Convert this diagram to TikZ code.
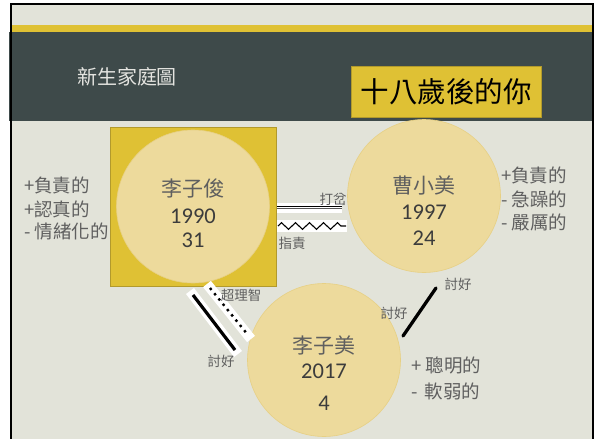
\documentclass[tikz,border=0pt]{standalone}
\usepackage{fontspec}
\setmainfont{Noto Sans CJK TC}
\newfontfamily\numfont{Carlito}
\usetikzlibrary{decorations.pathmorphing}
\definecolor{slidebg}{RGB}{226,227,217}
\definecolor{board}{RGB}{62,74,74}
\definecolor{gold}{RGB}{223,193,52}
\definecolor{goldedge}{RGB}{178,154,44}
\definecolor{circfill}{RGB}{237,218,156}
\definecolor{circedge}{RGB}{231,208,132}
\definecolor{txtgray}{RGB}{95,95,95}
\definecolor{numgray}{RGB}{60,60,60}
\definecolor{titlewhite}{RGB}{228,228,224}
\tikzset{
  person/.style={circle, fill=circfill, draw=circedge, line width=0.6pt, minimum size=153pt, inner sep=0pt},
  pname/.style={text=txtgray, font=\fontsize{21}{24}\selectfont, inner sep=0pt},
  pnum/.style={text=numgray, font=\numfont\fontsize{22.5}{26}\selectfont, inner sep=0pt},
  trait/.style={text=txtgray, font=\fontsize{18.5}{23}\selectfont, anchor=west, inner sep=0pt},
  rel/.style={text=txtgray, font=\fontsize{13.5}{16}\selectfont, inner sep=0pt},
  strip/.style={white, line width=10pt},
}
\begin{document}
\begin{tikzpicture}[x=1pt,y=-1pt]
\useasboundingbox (0,0) rectangle (595,439);
\fill[white] (0,0) rectangle (595,439);
% slide
\fill[slidebg] (11,3.5) rectangle (593,445);
\fill[gold] (11,25) rectangle (593,32);
\fill[board] (9,32) rectangle (593,121);
\draw[black, line width=2pt] (11,445) -- (11,3.5) -- (593,3.5) -- (593,445);
% header
\node[text=titlewhite, font=\fontsize{20}{24}\selectfont, inner sep=0pt] (hd) at (127,77) {新生家庭圖};
\node[fill=gold, draw=goldedge, line width=0.8pt, minimum width=190pt, minimum height=51pt, inner sep=0pt,
      font=\fontsize{28.5}{32}\selectfont] (ttl) at (446,91.5) {十八歲後的你};
% father square + circle
\node[fill=gold, draw=goldedge, line width=0.8pt, minimum width=166pt, minimum height=159pt, inner sep=0pt] (sq) at (193,206.5) {};
\node[person] (jun) at (193,206.5) {};
\node[pname] (junn) at (193,189) {李子俊};
\node[pnum] (juny) at (193,216) {1990};
\node[pnum] (juna) at (193,240) {31};
% mother
\node[person] (mei) at (424,196) {};
\node[pname] (meon) at (424,186) {曹小美};
\node[pnum] (meoy) at (424,212) {1997};
\node[pnum] (meoa) at (424,238) {24};
% child
\node[person] (zim) at (324,360) {};
\node[pname] (zimn) at (324,346) {李子美};
\node[pnum] (zimy) at (324,371) {2017};
\node[pnum] (zima) at (324,403) {4};
% traits
\node[trait] (t1) at (24,185) {+負責的};
\node[trait] (t2) at (24,209) {+認真的};
\node[trait] (t3) at (24,232) {- 情緒化的};
\node[trait] (t4) at (501,175) {+負責的};
\node[trait] (t5) at (501,199) {- 急躁的};
\node[trait] (t6) at (501,222) {- 嚴厲的};
\node[trait] (t7) at (411,365) {+ 聰明的};
\node[trait] (t8) at (411,391) {-\, 軟弱的};
% father - mother: double line and zigzag
\coordinate (da) at (277,208);
\coordinate (db) at (342,208);
\coordinate (za) at (277,226);
\coordinate (zb) at (347,226);
\draw[strip] (da) -- (db);
\draw[gray!70!black, line width=0.9pt] ([yshift=-0.9pt]da) -- ([yshift=-0.9pt]db);
\draw[black, line width=1.1pt] ([yshift=1.1pt]da) -- ([yshift=1.1pt]db);
\draw[white, line width=12pt] (za) -- (zb);
\draw[black, line width=1.1pt, decorate, decoration={zigzag, amplitude=3.3pt, segment length=14pt}] ([xshift=1pt]za) -- ([xshift=-1pt]zb);
\node[rel] (l1) at (333,199) {打岔};
\node[rel] (l2) at (292,243) {指責};
% father - child
\coordinate (sa) at (193,295);
\coordinate (sb) at (235,350);
\coordinate (sa2) at (190,291);
\coordinate (sb2) at (238,354);
\draw[strip] (sa2) -- (sb2);
\draw[black, line width=3.2pt] (sa) -- (sb);
\coordinate (pa) at (210,288);
\coordinate (pb) at (248,335);
\coordinate (pa2) at (207,284);
\coordinate (pb2) at (251,339);
\draw[strip] (pa2) -- (pb2);
\draw[black, line width=2.4pt, dash pattern=on 2.4pt off 4.4pt] (pa) -- (pb);
\node[rel] (l3) at (241,295) {超理智};
\node[rel] (l4) at (221,361) {討好};
% mother - child
\coordinate (ma) at (436,288);
\coordinate (mb) at (403,336);
\draw[black, line width=3.3pt, line cap=round] (ma) -- (mb);
\node[rel] (l5) at (458,284) {討好};
\node[rel] (l6) at (394,313) {討好};
\end{tikzpicture}
\end{document}
